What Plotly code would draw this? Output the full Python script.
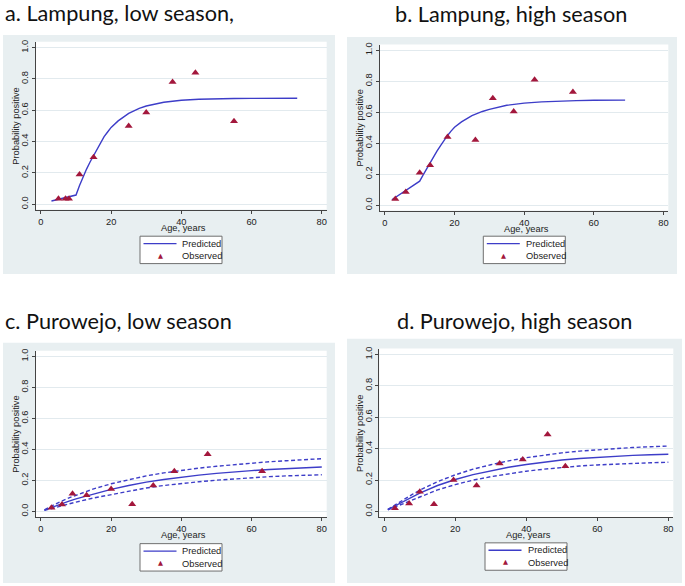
import plotly.graph_objects as go

# ---------------- data ----------------
# a. Lampung, low season
a_obs_age = [5, 7, 8, 11, 15, 25, 30, 37.5, 44, 55]
a_obs_p = [0.035, 0.035, 0.035, 0.19, 0.30, 0.50, 0.585, 0.78, 0.84, 0.53]
a_pred_age = [3, 10, 11, 12, 13, 14, 15, 16, 17, 18, 19, 20, 22, 25, 28, 30, 35, 40, 45, 50, 55, 60, 65, 73]
a_pred_p = [0.02, 0.058, 0.119, 0.174, 0.224, 0.269, 0.31, 0.356, 0.396, 0.431, 0.461, 0.49,
            0.532, 0.58, 0.612, 0.627, 0.651, 0.664, 0.67, 0.674, 0.675, 0.676, 0.677, 0.677]

# b. Lampung, high season
b_obs_age = [3, 6, 10, 13, 18, 26, 31, 37, 43, 54]
b_obs_p = [0.04, 0.085, 0.21, 0.257, 0.44, 0.42, 0.69, 0.605, 0.81, 0.73]
b_pred_age = [2, 4, 6, 8, 10, 11, 12, 13, 14, 15, 16, 17, 18, 19, 20, 22, 25, 28, 30, 35, 40, 45, 50, 55, 60, 69]
b_pred_p = [0.035, 0.065, 0.095, 0.125, 0.155, 0.195, 0.235, 0.275, 0.315, 0.35, 0.385, 0.42, 0.45,
            0.478, 0.503, 0.538, 0.578, 0.605, 0.618, 0.645, 0.659, 0.667, 0.672, 0.675, 0.677, 0.678]

# c. Purowejo, low season
c_obs_age = [3, 6, 9, 13, 20, 26, 32, 38, 47.5, 63]
c_obs_p = [0.025, 0.045, 0.115, 0.105, 0.145, 0.047, 0.168, 0.26, 0.37, 0.26]
c_age = [1, 3, 5, 8, 10, 15, 20, 25, 30, 35, 40, 45, 50, 55, 60, 65, 70, 75, 80]
c_pred = [0.009, 0.027, 0.043, 0.067, 0.082, 0.115, 0.143, 0.168, 0.19, 0.207, 0.222, 0.235,
          0.246, 0.256, 0.264, 0.271, 0.277, 0.282, 0.287]
c_upper = [0.011, 0.035, 0.058, 0.088, 0.106, 0.146, 0.179, 0.207, 0.23, 0.249, 0.266, 0.28,
           0.292, 0.303, 0.313, 0.321, 0.328, 0.335, 0.341]
c_lower = [0.007, 0.02, 0.032, 0.05, 0.061, 0.087, 0.11, 0.132, 0.152, 0.168, 0.181, 0.192,
           0.202, 0.211, 0.218, 0.225, 0.23, 0.234, 0.237]

# d. Purowejo, high season
d_obs_age = [3, 7, 10, 14, 19.5, 26, 32.5, 39, 46, 51]
d_obs_p = [0.02, 0.05, 0.125, 0.045, 0.20, 0.165, 0.305, 0.33, 0.49, 0.288]
d_age = [1, 3, 5, 8, 10, 15, 20, 25, 30, 35, 40, 45, 50, 55, 60, 65, 70, 75, 80]
d_pred = [0.012, 0.035, 0.058, 0.095, 0.117, 0.165, 0.203, 0.234, 0.259, 0.281, 0.299, 0.314,
          0.327, 0.337, 0.345, 0.352, 0.357, 0.361, 0.364]
d_upper = [0.013, 0.042, 0.07, 0.11, 0.135, 0.19, 0.233, 0.269, 0.297, 0.322, 0.342, 0.359,
           0.373, 0.384, 0.393, 0.401, 0.407, 0.412, 0.416]
d_lower = [0.01, 0.028, 0.046, 0.077, 0.095, 0.137, 0.171, 0.199, 0.221, 0.24, 0.256, 0.269,
           0.28, 0.289, 0.296, 0.302, 0.307, 0.31, 0.313]

titles = ["a. Lampung, low season,", "b. Lampung, high season",
          "c. Purowejo, low season", "d. Purowejo, high season"]
legend_labels = ["Predicted", "Observed"]
x_ticks = [0, 20, 40, 60, 80]
y_ticks = [0.0, 0.2, 0.4, 0.6, 0.8, 1.0]
y_ticktext = ["0.0", "0.2", "0.4", "0.6", "0.8", "1.0"]

# ---------------- style ----------------
W, H = 685, 586
LINE = "#3d3dc8"
MARK = "#a3173c"
PANEL_BG = "#e8eff1"
GRID = "#e2eaee"
AXC = "#444444"
FONT = "Liberation Sans, Arial, sans-serif"
TFONT = "Lato, Open Sans, sans-serif"
FS = 9.3

def fx(px):
    return px / W

def fy(py):
    return 1 - py / H

# panel geometry in pixels: grey box, plot box, legend box (x0, y0)
panels = [
    dict(bg=(3, 33, 335, 273), plot=(36, 40, 326.7, 208.3), leg=(140, 235),
         title=(3, 11, "left")),
    dict(bg=(347, 35, 677, 273), plot=(380, 42.7, 668.3, 209.3), leg=(483.3, 235),
         title=(511, 12, "center")),
    dict(bg=(3, 342, 335, 583), plot=(36, 350, 326.7, 516.7), leg=(140, 543.5),
         title=(3, 320, "left")),
    dict(bg=(347, 338, 682, 583), plot=(379.3, 347.7, 673.3, 516.7), leg=(485, 542.7),
         title=(514, 320, "center")),
]
LEG_W, LEG_H = 82, 27.5

fig = go.Figure()

series = [
    (a_pred_age, a_pred_p, None, None, a_obs_age, a_obs_p),
    (b_pred_age, b_pred_p, None, None, b_obs_age, b_obs_p),
    (c_age, c_pred, c_upper, c_lower, c_obs_age, c_obs_p),
    (d_age, d_pred, d_upper, d_lower, d_obs_age, d_obs_p),
]

shapes = []
annotations = []
layout = {}
for i, (p, s) in enumerate(zip(panels, series)):
    n = "" if i == 0 else str(i + 1)
    xa, ya = "x" + n, "y" + n
    age, pred, up, lo, oage, op = s
    fig.add_trace(go.Scatter(x=age, y=pred, mode="lines", name=legend_labels[0],
                             line=dict(color=LINE, width=1.4), xaxis=xa, yaxis=ya,
                             showlegend=False))
    if up is not None:
        for band in (up, lo):
            fig.add_trace(go.Scatter(x=age, y=band, mode="lines", showlegend=False,
                                     line=dict(color=LINE, width=1.4, dash="4px,2.5px"),
                                     xaxis=xa, yaxis=ya))
    fig.add_trace(go.Scatter(x=oage, y=op, mode="markers", name=legend_labels[1],
                             marker=dict(symbol="triangle-up", size=7, color=MARK),
                             xaxis=xa, yaxis=ya, showlegend=False))

    bx0, by0, bx1, by1 = p["bg"]
    shapes.append(dict(type="rect", xref="paper", yref="paper", layer="below",
                       x0=fx(bx0), x1=fx(bx1), y0=fy(by1), y1=fy(by0),
                       fillcolor=PANEL_BG, line=dict(width=0)))
    px0, py0, px1, py1 = p["plot"]
    shapes.append(dict(type="rect", xref="paper", yref="paper", layer="below",
                       x0=fx(px0), x1=fx(px1), y0=fy(py1), y1=fy(py0),
                       fillcolor="white", line=dict(width=0)))

    layout["xaxis" + n] = dict(domain=[fx(px0), fx(px1)], anchor=ya, range=[-1.4, 81.4],
                               tickvals=x_ticks, showgrid=False, zeroline=False,
                               showline=True, linecolor=AXC, linewidth=1,
                               ticks="outside", ticklen=3, tickcolor=AXC,
                               tickfont=dict(family=FONT, size=FS, color="#222"))
    layout["yaxis" + n] = dict(domain=[fy(py1), fy(py0)], anchor=xa, range=[-0.035, 1.037],
                               tickvals=y_ticks, ticktext=y_ticktext, tickangle=-90,
                               showgrid=True, gridcolor=GRID, gridwidth=1, zeroline=False,
                               showline=True, linecolor=AXC, linewidth=1,
                               ticks="outside", ticklen=3, tickcolor=AXC,
                               tickfont=dict(family=FONT, size=FS, color="#222"))

    # legend (frame, line sample, triangle, labels)
    lx, ly = p["leg"]
    shapes.append(dict(type="rect", xref="paper", yref="paper", layer="above",
                       x0=fx(lx), x1=fx(lx + LEG_W), y0=fy(ly + LEG_H), y1=fy(ly),
                       fillcolor="white", line=dict(color="#6f6f6f", width=1)))
    shapes.append(dict(type="line", xref="paper", yref="paper", layer="above",
                       x0=fx(lx + 3.5), x1=fx(lx + 36.5), y0=fy(ly + 7.5), y1=fy(ly + 7.5),
                       line=dict(color=LINE, width=1.4)))
    annotations.append(dict(xref="paper", yref="paper", x=fx(lx + 20), y=fy(ly + 19.5),
                            text="▲", showarrow=False,
                            font=dict(family="DejaVu Sans", size=6.5, color=MARK),
                            xanchor="center", yanchor="middle"))
    for k, lab in enumerate(legend_labels):
        annotations.append(dict(xref="paper", yref="paper", x=fx(lx + 40.5),
                                y=fy(ly + 7.5 + 12.5 * k), text=lab, showarrow=False,
                                font=dict(family=FONT, size=FS, color="#222"),
                                xanchor="left", yanchor="middle"))

    # axis titles
    annotations.append(dict(xref="paper", yref="paper", x=fx((px0 + px1) / 2 + 2),
                            y=fy(py1 + 18.5), text="Age, years", showarrow=False,
                            font=dict(family=FONT, size=FS, color="#222"),
                            xanchor="center", yanchor="middle"))
    annotations.append(dict(xref="paper", yref="paper", x=fx(px0 - 20),
                            y=fy((py0 + py1) / 2), text="Probability positive",
                            textangle=-90, showarrow=False,
                            font=dict(family=FONT, size=FS, color="#222"),
                            xanchor="center", yanchor="middle"))
    tx, ty, tal = p["title"]
    annotations.append(dict(xref="paper", yref="paper", x=fx(tx), y=fy(ty),
                            text=titles[i], showarrow=False,
                            font=dict(family=TFONT, size=21.7, color="#111"),
                            xanchor=tal, yanchor="middle"))

fig.update_layout(width=W, height=H, margin=dict(l=0, r=0, t=0, b=0),
                  paper_bgcolor="white", plot_bgcolor="white", showlegend=False,
                  shapes=shapes, annotations=annotations, **layout)

fig.write_html("out.html", config={"displayModeBar": False},
               post_script="document.body.style.margin='0px';document.body.style.padding='0px';")
